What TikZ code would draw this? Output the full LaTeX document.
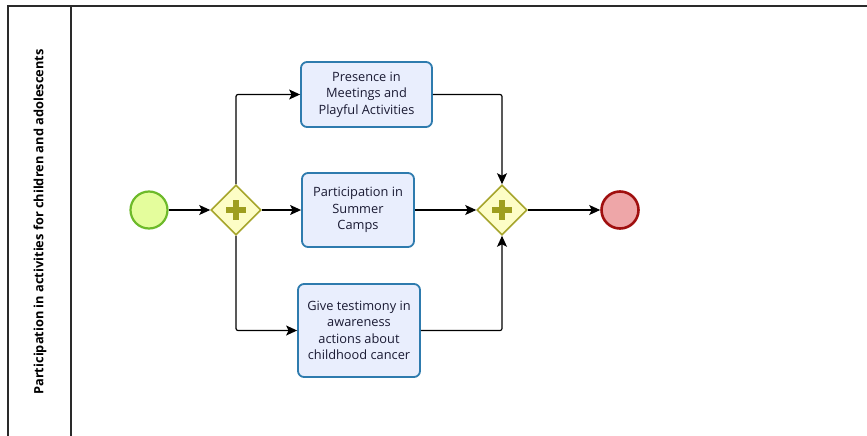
\documentclass[tikz,border=0pt]{standalone}
\usepackage{fontspec}
\setmainfont{Open Sans}
\usetikzlibrary{shapes.geometric,arrows.meta}
\definecolor{taskfill}{HTML}{E9EEFD}
\definecolor{taskline}{HTML}{2E7BAE}
\definecolor{txt}{HTML}{1A1A33}
\definecolor{startfill}{HTML}{E4FD9C}
\definecolor{startline}{HTML}{6DBA2A}
\definecolor{endfill}{HTML}{EEA6A8}
\definecolor{endline}{HTML}{A00F0F}
\definecolor{gwfill}{HTML}{FDFDC6}
\definecolor{gwline}{HTML}{A6A52C}
\definecolor{gwplus}{HTML}{9E9E1E}
\definecolor{poolline}{HTML}{2A2A2A}
\tikzset{
  task/.style={draw=taskline, fill=taskfill, line width=1.8pt, rounded corners=6pt,
    align=center, inner sep=2pt, text=txt, font=\fontsize{12.8}{16.5}\selectfont},
  gateway/.style={diamond, aspect=1, draw=gwline, fill=gwfill, line width=1.6pt,
    minimum width=50pt, minimum height=50pt, inner sep=0pt},
  startev/.style={circle, draw=startline, fill=startfill, line width=2.2pt,
    minimum size=37pt, inner sep=0pt},
  endev/.style={circle, draw=endline, fill=endfill, line width=2.6pt,
    minimum size=37pt, inner sep=0pt},
  flow/.style={draw=black, line width=1.2pt, rounded corners=2pt,
    -{Stealth[length=11pt,width=10pt,inset=2.5pt]}},
  pool/.style={draw=poolline, line width=1.2pt},
}
\newcommand{\gwcross}[1]{%
  \fill[gwplus] ([xshift=-10pt,yshift=-2.8pt]#1.center) rectangle ([xshift=10pt,yshift=2.8pt]#1.center);
  \fill[gwplus] ([xshift=-2.8pt,yshift=-10pt]#1.center) rectangle ([xshift=2.8pt,yshift=10pt]#1.center);
}
\begin{document}
\begin{tikzpicture}[x=1pt,y=-1pt]
  \useasboundingbox[fill=white] (0,0) rectangle (867,436);
  % pool and lane header
  \draw[pool] (867,6) -- (8,6) -- (8,436);
  \draw[pool] (71,6) -- (71,436);
  \node[rotate=90, font=\bfseries\fontsize{12.8}{15}\selectfont, text=black] (lane) at (40,222)
    {Participation in activities for children and adolescents};
  % events and gateways
  \node[startev] (start) at (149,210) {};
  \node[gateway] (g1) at (236,210) {};
  \node[gateway] (g2) at (502,210) {};
  \node[endev] (end) at (620,210) {};
  \gwcross{g1}
  \gwcross{g2}
  % tasks
  \node[task, minimum width=131pt, minimum height=65pt] (t1) at (366.5,94.5)
    {Presence in\\Meetings and\\Playful Activities};
  \node[task, minimum width=112pt, minimum height=74pt] (t2) at (358,210)
    {Participation in\\Summer\\Camps};
  \node[task, minimum width=122pt, minimum height=93pt] (t3) at (359,330.5)
    {Give testimony in\\awareness\\actions about\\childhood cancer};
  % sequence flows
  \draw[flow] (start) -- (g1);
  \draw[flow] (g1.north) |- (t1.west);
  \draw[flow] (g1.east) -- (t2.west);
  \draw[flow] (g1.south) |- (t3.west);
  \draw[flow] (t1.east) -| (g2.north);
  \draw[flow] (t2.east) -- (g2.west);
  \draw[flow] (t3.east) -| (g2.south);
  \draw[flow] (g2.east) -- (end.west);
\end{tikzpicture}
\end{document}
